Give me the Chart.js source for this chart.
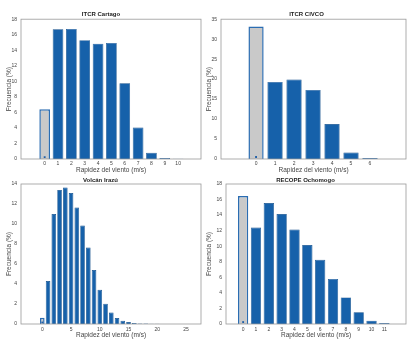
<!DOCTYPE html>
<html>
<head>
<meta charset="utf-8">
<script src="https://cdn.jsdelivr.net/npm/chart.js@4/dist/chart.umd.min.js"></script>
<style>
  html, body { margin:0; padding:0; background:#fff; }
  body { width:410px; height:349px; position:relative; overflow:hidden; }
  .p { position:absolute; }
</style>
</head>
<body>
<div class="p" style="left:0;top:0;width:205px;height:175px"><canvas id="c1" width="205" height="175"></canvas></div>
<div class="p" style="left:205px;top:0;width:205px;height:175px"><canvas id="c2" width="205" height="175"></canvas></div>
<div class="p" style="left:0;top:175px;width:205px;height:174px"><canvas id="c3" width="205" height="174"></canvas></div>
<div class="p" style="left:205px;top:175px;width:205px;height:174px"><canvas id="c4" width="205" height="174"></canvas></div>
<script>
// ---- Data ----
const titles = ["ITCR Cartago", "ITCR CIVCO", "Volcán Irazú", "RECOPE Ochomogo"];
const xLabel = "Rapidez del viento (m/s)";
const yLabel = "Frecuencia (%)";

const speedCartago = [0,1,2,3,4,5,6,7,8,9,10];
const freqCartago  = [6.4,16.7,16.75,15.3,14.85,14.95,9.75,4.05,0.8,0.12,0.04];
const xTicksCartago = [0,1,2,3,4,5,6,7,8,9,10];
const yTicksCartago = [0,2,4,6,8,10,12,14,16,18];

const speedCivco = [0,1,2,3,4,5,6];
const freqCivco  = [33.2,19.3,19.9,17.3,8.75,1.6,0.25];
const xTicksCivco = [0,1,2,3,4,5,6];
const yTicksCivco = [0,5,10,15,20,25,30,35];

const speedIrazu = [0,1,2,3,4,5,6,7,8,9,10,11,12,13,14,15,16,17,18,19,20,21];
const freqIrazu  = [0.63,4.3,11.0,13.4,13.65,13.1,11.65,9.85,7.65,5.4,3.42,2.02,1.15,0.6,0.33,0.2,0.1,0.06,0.04,0.03,0.02,0.01];
const xTicksIrazu = [0,5,10,15,20,25];
const yTicksIrazu = [0,2,4,6,8,10,12,14];

const speedOchomogo = [0,1,2,3,4,5,6,7,8,9,10,11];
const freqOchomogo  = [16.45,12.4,15.55,14.15,12.15,10.15,8.25,5.8,3.42,1.5,0.43,0.12];
const xTicksOchomogo = [0,1,2,3,4,5,6,7,8,9,10,11];
const yTicksOchomogo = [0,2,4,6,8,10,12,14,16,18];

// calm marker at speed 0
const calmMarker = [0];
const calmMarkerLevel = [0.25, 0.5, 0.15, 0.25];

// ---- Styling ----
const BLUE = '#1661aa', BLUE_EDGE = '#0c4a87';
const GRAY = '#c9c9c9', GRAY_EDGE = '#2b6db2';
const FONT = "'Liberation Sans', Arial, sans-serif";

const frame = {
  id: 'frame',
  afterDatasetsDraw(chart) {
    const a = chart.chartArea, ctx = chart.ctx;
    ctx.save();
    ctx.strokeStyle = '#9a9a9a';
    ctx.lineWidth = 0.8;
    ctx.strokeRect(a.left, a.top, a.right - a.left, a.bottom - a.top);
    ctx.restore();
  }
};

function makeChart(id, idx, xs, ys, xTicks, yTicks, L) {
  const data = xs.map((x, i) => ({x: x, y: ys[i]}));
  const bg = xs.map((x, i) => i === 0 ? GRAY : BLUE);
  const bc = xs.map((x, i) => i === 0 ? GRAY_EDGE : BLUE_EDGE);
  const bw = xs.map((x, i) => i === 0 ? 1.5 : 0.7);
  new Chart(document.getElementById(id), {
    type: 'bar',
    data: {
      datasets: [
        {
          type: 'scatter',
          data: calmMarker.map(x => ({x: x, y: calmMarkerLevel[idx]})),
          pointStyle: 'rect', pointRadius: 1.3,
          backgroundColor: '#1f5fa8', borderColor: '#1f5fa8', borderWidth: 0
        },
        {
          data: data,
          backgroundColor: bg, borderColor: bc, borderWidth: bw,
          barPercentage: 0.8, categoryPercentage: 1.0, grouped: false
        }
      ]
    },
    options: {
      responsive: false, animation: false,
      layout: { padding: { left: 0, right: L.pr, top: 0, bottom: 0 } },
      plugins: {
        legend: { display: false }, tooltip: { enabled: false },
        title: {
          display: true, text: titles[idx], color: '#222',
          font: { family: FONT, size: 6, weight: 'bold' },
          padding: { top: L.tt, bottom: L.tb }
        }
      },
      scales: {
        x: {
          type: 'linear', min: L.xmin, max: L.xmax,
          afterBuildTicks: s => { s.ticks = xTicks.map(v => ({value: v})); },
          afterFit: s => { s.height = L.xh; },
          grid: { display: false, drawTicks: false },
          border: { display: false },
          ticks: { color: '#444', font: { family: FONT, size: 5 }, padding: L.xtp, maxRotation: 0, autoSkip: false },
          title: { display: true, text: xLabel, color: '#444', font: { family: FONT, size: 6.5 }, padding: { top: 0, bottom: L.xtb } }
        },
        y: {
          min: 0, max: yTicks[yTicks.length - 1],
          afterBuildTicks: s => { s.ticks = yTicks.map(v => ({value: v})); },
          afterFit: s => { s.width = L.yw; },
          grid: { display: false, drawTicks: false },
          border: { display: false },
          ticks: { color: '#444', font: { family: FONT, size: 5 }, padding: 4 },
          title: { display: true, text: yLabel, color: '#444', font: { family: FONT, size: 6.5 }, padding: { top: L.ytp, bottom: 0 } }
        }
      }
    },
    plugins: [frame]
  });
}

makeChart('c1', 0, speedCartago, freqCartago, xTicksCartago, yTicksCartago,
  { pr: 3, tt: 11, tb: 1, xh: 16, xtp: 2, xtb: 1, yw: 21, ytp: 5, xmin: -1.16, xmax: 11.1 });
makeChart('c2', 1, speedCivco, freqCivco, xTicksCivco, yTicksCivco,
  { pr: 2, tt: 11, tb: 1, xh: 16, xtp: 2, xtb: 1, yw: 16, ytp: 0.5, xmin: -1.15, xmax: 7.2 });
makeChart('c3', 2, speedIrazu, freqIrazu, xTicksIrazu, yTicksIrazu,
  { pr: 4, tt: 1.4, tb: 0.4, xh: 25, xtp: 3, xtb: 10, yw: 21, ytp: 5, xmin: -1.1, xmax: 25 });
makeChart('c4', 3, speedOchomogo, freqOchomogo, xTicksOchomogo, yTicksOchomogo,
  { pr: 4, tt: 1.4, tb: 0.4, xh: 25, xtp: 3, xtb: 10, yw: 21, ytp: 0.5, xmin: -0.75, xmax: 12.1 });
</script>
</body>
</html>
